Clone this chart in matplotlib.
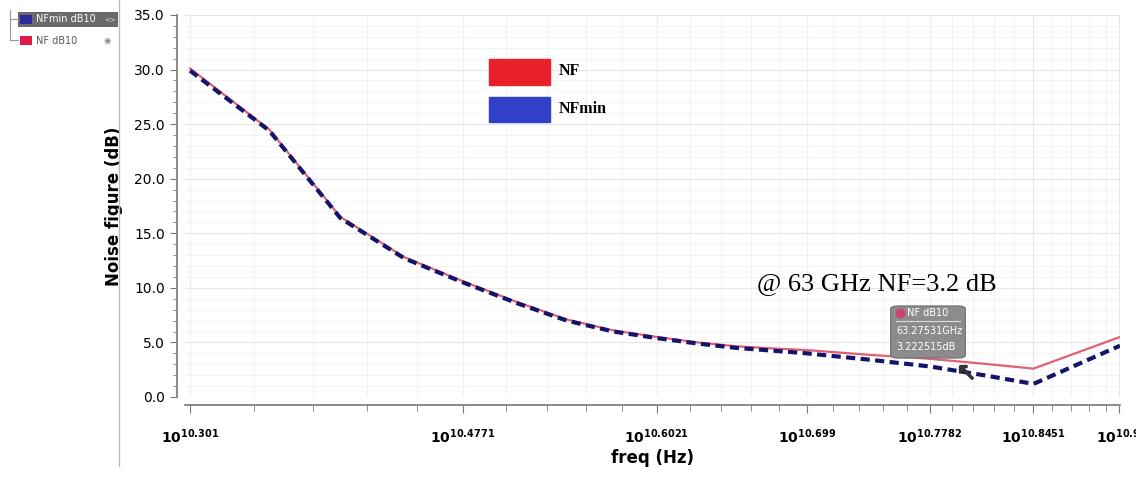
import numpy as np
import matplotlib.pyplot as plt
from matplotlib.patches import FancyBboxPatch, Rectangle
from matplotlib.lines import Line2D

freq_ghz = [20.0, 22.5, 25.0, 27.5, 30.0, 32.5, 35.0, 37.5, 40.0, 42.5,
            45.0, 47.5, 50.0, 55.0, 60.0, 65.0, 70.0, 79.6]
nf = [30.1, 24.5, 16.5, 12.8, 10.6, 8.7, 7.1, 6.1, 5.5, 5.0,
      4.65, 4.45, 4.3, 3.85, 3.5, 3.05, 2.6, 5.5]
nfmin = [29.9, 24.4, 16.4, 12.7, 10.5, 8.6, 7.0, 6.0, 5.4, 4.9,
         4.5, 4.25, 4.0, 3.4, 2.8, 2.0, 1.2, 4.7]

xtick_exp = ["10.301", "10.4771", "10.6021", "10.699", "10.7782", "10.8451", "10.9"]
ytick_vals = [0, 5, 10, 15, 20, 25, 30, 35]

W, H = 1136, 484
fig = plt.figure(figsize=(W / 100, H / 100), dpi=100)
fig.patch.set_facecolor("white")
ax = fig.add_axes([185 / W, (H - 397) / H, (1120 - 185) / W, (397 - 15) / H])

f_hz = np.array(freq_ghz) * 1e9
ax.plot(f_hz, nf, color="#e06075", lw=1.6, zorder=3)
ax.plot(f_hz, nfmin, color="#14146b", lw=3.0, ls=(0, (2.2, 1.3)), zorder=4)

ax.set_xscale("log")
ax.set_xlim(19.85e9, 79.6e9)
ax.set_ylim(0, 35)
xt = [10 ** float(e) for e in xtick_exp]
ax.set_xticks(xt)
ax.set_xticklabels([r"$\mathbf{10^{%s}}$" % e for e in xtick_exp], fontsize=12.5)
ax.set_xticks(np.arange(20e9, 80e9, 2e9), minor=True)
ax.xaxis.set_minor_formatter(plt.NullFormatter())
ax.set_yticks(ytick_vals)
ax.set_yticklabels(["%.1f" % v for v in ytick_vals], fontsize=11, fontweight="bold")
ax.set_yticks(np.arange(0, 35.1, 1), minor=True)
ax.tick_params(axis="both", which="both", color="#777777", direction="out")
ax.tick_params(axis="x", which="major", length=6, pad=10)
ax.tick_params(axis="x", which="minor", length=4)
ax.tick_params(axis="y", which="major", length=5)
ax.tick_params(axis="y", which="minor", length=3)
ax.grid(True, which="major", color="#e6e6e6", lw=0.8)
ax.grid(True, which="minor", color="#f1f1f1", lw=0.6)
for s in ["top", "right"]:
    ax.spines[s].set_visible(False)
for s in ["left", "bottom"]:
    ax.spines[s].set_color("#777777")
    ax.spines[s].set_linewidth(1.2)
    ax.spines[s].set_position(("outward", 6))
ax.set_xlabel("freq (Hz)", fontsize=12, fontweight="bold", labelpad=2)
ax.set_ylabel("Noise figure (dB)", fontsize=12, fontweight="bold", labelpad=8)

# in-plot legend
for yy, col, lab in [(0.851, "#e8202a", "NF"), (0.752, "#3040c8", "NFmin")]:
    ax.add_patch(Rectangle((0.325, yy - 0.033), 0.065, 0.066, transform=ax.transAxes,
                           facecolor=col, edgecolor=col, zorder=6))
    ax.text(0.4, yy + 0.002, lab, transform=ax.transAxes, fontsize=11.5,
            fontweight="bold", family="Liberation Serif", va="center", zorder=6)

ax.text(0.612, 0.297, "@ 63 GHz NF=3.2 dB", transform=ax.transAxes,
        fontsize=19, family="Liberation Serif", va="center", zorder=6)

# tooltip box
tip = FancyBboxPatch((893 / W, (H - 357) / H), 70 / W, 50 / H,
                     boxstyle="round,pad=0.002,rounding_size=0.006",
                     transform=fig.transFigure, facecolor="#8c8c8c",
                     edgecolor="#777777", zorder=10)
fig.patches.append(tip)
fig.add_artist(Line2D([900 / W], [(H - 313) / H], marker="o", color="#d0406a",
                      markersize=6, transform=fig.transFigure, zorder=11))
fig.text(907 / W, (H - 313) / H, "NF dB10", fontsize=7, color="white", va="center",
         zorder=11)
fig.add_artist(Line2D([896 / W, 960 / W], [(H - 321) / H] * 2, color="#dddddd",
                      lw=0.8, transform=fig.transFigure, zorder=11))
fig.text(896 / W, (H - 331) / H, "63.27531GHz", fontsize=7, color="white", va="center",
         zorder=11)
fig.text(896 / W, (H - 347) / H, "3.222515dB", fontsize=7, color="white", va="center",
         zorder=11)
fig.add_artist(Line2D([966 / W], [(H - 372) / H], marker=r"$\nwarrow$", color="#333333",
                      markersize=10, transform=fig.transFigure, zorder=11))

# left legend panel
fig.add_artist(Line2D([119 / W] * 2, [1, (H - 466) / H], color="#bbbbbb", lw=1,
                      transform=fig.transFigure))
fig.add_artist(Line2D([10 / W] * 2, [(H - 10) / H, (H - 40) / H], color="#999999", lw=0.8,
                      transform=fig.transFigure))
fig.add_artist(Line2D([10 / W, 18 / W], [(H - 19) / H] * 2, color="#999999", lw=0.8,
                      transform=fig.transFigure))
fig.add_artist(Line2D([10 / W, 18 / W], [(H - 40) / H] * 2, color="#999999", lw=0.8,
                      transform=fig.transFigure))
fig.patches.append(Rectangle((18 / W, (H - 27) / H), 100 / W, 15 / H,
                             transform=fig.transFigure, facecolor="#6a6a6a",
                             edgecolor="none"))
fig.patches.append(Rectangle((20 / W, (H - 24) / H), 12 / W, 9 / H,
                             transform=fig.transFigure, facecolor="#2a2a9a",
                             edgecolor="none"))
fig.patches.append(Rectangle((20 / W, (H - 45) / H), 12 / W, 9 / H,
                             transform=fig.transFigure, facecolor="#dd1a48",
                             edgecolor="none"))
fig.text(36 / W, (H - 19.5) / H, "NFmin dB10", fontsize=7, color="white", va="center",
         zorder=5)
fig.text(36 / W, (H - 40.5) / H, "NF dB10", fontsize=7, color="#555555", va="center")
fig.text(104 / W, (H - 19.5) / H, "<>", fontsize=5, color="#dddddd", va="center",
         zorder=5)
fig.text(103 / W, (H - 40.5) / H, "\u25c9", fontsize=6, color="#888888", va="center")

fig.savefig("out.png", dpi=100, facecolor="white")
